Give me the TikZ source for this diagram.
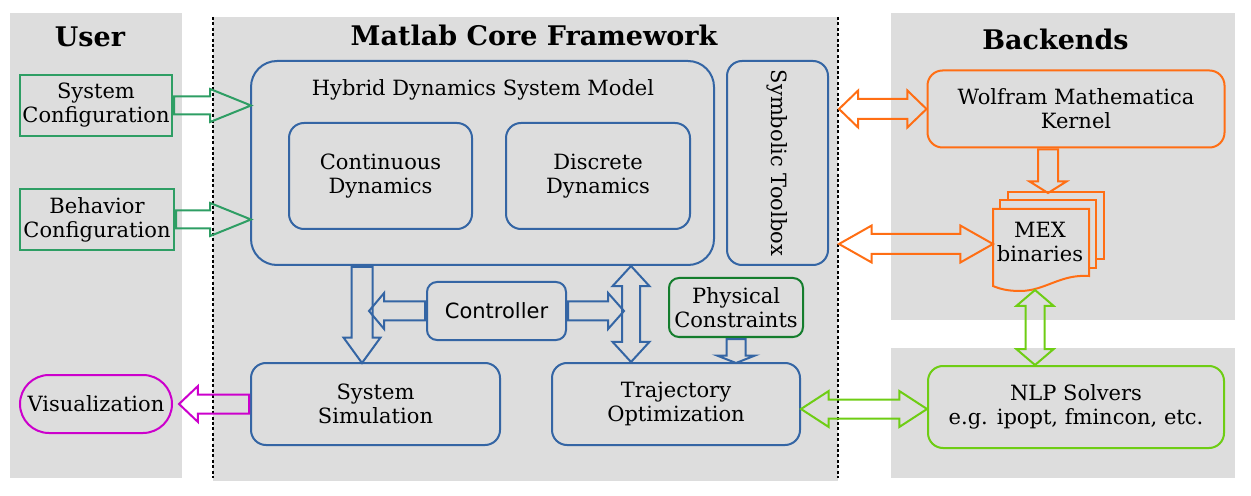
\documentclass[tikz,border=0pt]{standalone}
\usepackage{fontspec}
\setmainfont{DejaVu Serif}
\setsansfont{DejaVu Sans}
\usetikzlibrary{shapes.arrows,calc}

\definecolor{coreblue}{RGB}{52,101,164}
\definecolor{confgreen}{RGB}{46,158,100}
\definecolor{physgreen}{RGB}{20,125,45}
\definecolor{backorange}{RGB}{255,110,20}
\definecolor{nlpgreen}{RGB}{110,205,20}
\definecolor{vismagenta}{RGB}{204,0,204}
\definecolor{panelgray}{RGB}{221,221,221}

\tikzset{
  box/.style={draw=coreblue, line width=1pt, rounded corners=7.5pt, align=center, inner sep=0pt},
  paneltitle/.style={font=\fontsize{13.5}{16}\selectfont\bfseries},
  dotline/.style={line width=1.1pt, dash pattern=on 1.5pt off 1.2pt},
  fatone/.style={single arrow, draw, line width=1pt, inner xsep=0pt, inner ysep=4.25pt, sloped, allow upside down,
    anchor=tail, pos=0, minimum width=0pt, single arrow head extend=4.5pt},
  fattwo/.style={double arrow, draw, line width=1pt, inner xsep=0pt, inner ysep=4.25pt, sloped, allow upside down,
    anchor=center, pos=0.5, minimum width=0pt, double arrow head extend=4.5pt},
}

% block arrows between two points
\newcommand{\fatarrow}[3][]{%
  \path let \p1=#2, \p2=#3, \n1={veclen(\x2-\x1,\y2-\y1)} in #2 -- node[fatone, minimum height=\n1, #1] {} #3;}
\newcommand{\fatboth}[3][]{%
  \path let \p1=#2, \p2=#3, \n1={veclen(\x2-\x1,\y2-\y1)} in #2 -- node[fattwo, minimum height=\n1, #1] {} #3;}

\begin{document}
\begin{tikzpicture}[x=0.5pt, y=-0.5pt, font=\fontsize{10.5}{12}\selectfont]
  \useasboundingbox (0,0) rectangle (1251,496);

  % The panels
  \fill[panelgray] (10,13) rectangle (182,478);
  \fill[panelgray] (213,17) rectangle (838,481);
  \fill[panelgray] (891,13) rectangle (1235,320);
  \fill[panelgray] (891,348) rectangle (1235,478);
  \draw[dotline] (213,17) -- (213,478);
  \draw[dotline] (838,17) -- (838,478);

  \node[paneltitle] (usertitle) at (90,37) {User};
  \node[paneltitle] (coretitle) at (534,35) {Matlab Core Framework};
  \node[paneltitle] (backtitle) at (1055.5,39) {Backends};

  % User side
  \node[box, draw=confgreen, rounded corners=0pt, minimum width=76pt, minimum height=30.5pt] (sysconf) at (96,105.5) {System\\Configuration};
  \node[box, draw=confgreen, rounded corners=0pt, minimum width=77pt, minimum height=30.5pt] (behconf) at (97,219.5) {Behavior\\Configuration};
  \node[box, draw=vismagenta, rounded corners=14.5pt, minimum width=76pt, minimum height=29pt] (vis) at (96,404) {Visualization};

  % The core framework
  \node[box, rounded corners=13pt, minimum width=231.5pt, minimum height=102pt] (hybrid) at (482.5,163) {};
  \node (hybtitle) at (483,90) {Hybrid Dynamics System Model};
  \node[box, minimum width=91.5pt, minimum height=53pt] (cont) at (380.5,176) {Continuous\\Dynamics};
  \node[box, minimum width=92pt, minimum height=53pt] (disc) at (598,176) {Discrete\\Dynamics};
  \node[box, rotate=-90, minimum width=102pt, minimum height=50.5pt] (symb) at (777.5,163) {Symbolic Toolbox};
  \node[box, rounded corners=5pt, font=\sffamily\fontsize{10.5}{12}\selectfont, minimum width=69.5pt, minimum height=29pt] (ctrl) at (496.5,311) {Controller};
  \node[box, draw=physgreen, rounded corners=5pt, minimum width=67pt, minimum height=29.5pt] (phys) at (736,307.5) {Physical\\Constraints};
  \node[box, minimum width=124.5pt, minimum height=41pt] (sim) at (375.5,404) {System\\Simulation};
  \node[box, minimum width=124pt, minimum height=41pt] (traj) at (676,404) {Trajectory\\Optimization};

  % The backends
  \node[box, draw=backorange, minimum width=148.5pt, minimum height=38.5pt] (wolf) at (1076,109) {Wolfram Mathematica\\Kernel};
  \node[box, draw=nlpgreen, minimum width=148pt, minimum height=41pt] (nlp) at (1076,407) {NLP Solvers\\e.g. ipopt, fmincon, etc.};

  % The stack of MEX files
  \draw[backorange, fill=panelgray, line width=1pt] (1008,192) rectangle (1104,259);
  \draw[backorange, fill=panelgray, line width=1pt] (1000,200) rectangle (1096,268);
  \draw[backorange, fill=panelgray, line width=1pt] (993,209) -- (1089,209) -- (1089,276)
    .. controls (1060,274) and (1045,291) .. (1020,291) .. controls (1008,291) and (1000,289) .. (993,286) -- cycle;
  \node[align=center] (mex) at (1040,242) {MEX\\binaries};
  \coordinate (mextop) at (1048,192);
  \coordinate (mexleft) at (993,244);
  \coordinate (mexbot) at (1035,290);

  % Helper points for the arrows
  \coordinate (simin) at ($(sim.north)+(-13.5,0)$);
  \coordinate (trajin) at ($(traj.north)+(-45,0)$);
  \coordinate (nlpin) at ($(nlp.west)+(0,2)$);

  % Arrows into the model
  \fatarrow[draw=confgreen, inner ysep=4pt, single arrow head extend=3.75pt, single arrow tip angle=44]{(sysconf.east)}{(hybrid.west |- sysconf.east)}
  \fatarrow[draw=confgreen, inner ysep=4pt, single arrow head extend=3.75pt, single arrow tip angle=44]{(behconf.east)}{(hybrid.west |- behconf.east)}

  % Arrows inside the core
  \fatarrow[draw=coreblue, inner ysep=4.75pt, single arrow head extend=4pt, single arrow tip angle=72]{(hybrid.south -| simin)}{(simin)}
  \fatarrow[draw=coreblue, single arrow head extend=4.25pt, single arrow tip angle=100]{(ctrl.west)}{($(ctrl.west)+(-56,0)$)}
  \fatarrow[draw=coreblue, single arrow head extend=4.25pt, single arrow tip angle=97]{(ctrl.east)}{($(ctrl.east)+(56,0)$)}
  \fatboth[draw=coreblue, inner ysep=4pt, double arrow head extend=4.75pt, double arrow tip angle=85]{(hybrid.south -| trajin)}{(trajin)}
  \fatarrow[draw=coreblue, single arrow head extend=4.75pt, single arrow tip angle=137]{(phys.south)}{(phys.south |- traj.north)}
  \fatarrow[draw=vismagenta, single arrow head extend=4.25pt, single arrow tip angle=87]{(sim.west)}{($(vis.east)+(7,0)$)}

  % Arrows to the backends
  \fatboth[draw=backorange, inner ysep=4.5pt, double arrow head extend=4.25pt, double arrow tip angle=88]{($(symb.north |- wolf.west)+(10,0)$)}{(wolf.west)}
  \fatboth[draw=backorange, inner ysep=4.5pt, double arrow head extend=4.25pt, double arrow tip angle=59]{($(symb.north |- mexleft)+(10,0)$)}{(mexleft)}
  \fatarrow[draw=backorange, inner ysep=4.5pt, single arrow head extend=4.25pt, single arrow tip angle=116]{(wolf.south -| mextop)}{(mextop)}
  \fatboth[draw=nlpgreen, double arrow tip angle=99]{(mexbot)}{(nlp.north -| mexbot)}
  \fatboth[draw=nlpgreen, double arrow head extend=4.25pt, double arrow tip angle=66]{(traj.east |- nlpin)}{(nlpin)}
\end{tikzpicture}
\end{document}
